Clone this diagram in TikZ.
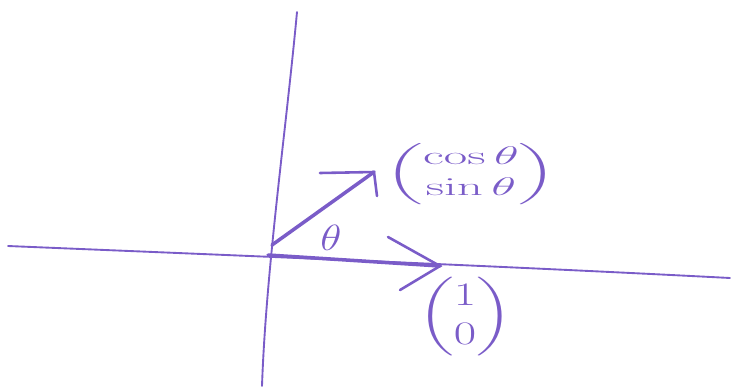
\documentclass[tikz,border=0pt]{standalone}
\usepackage{amsmath}
\definecolor{pen}{RGB}{122,92,200}
\begin{document}
\begin{tikzpicture}[x=0.03cm,y=-0.03cm,
  axis/.style={draw=pen,line width=1.6pt,line cap=round},
  vec/.style={draw=pen,line width=3pt,line cap=round},
  barb/.style={draw=pen,line width=2.2pt,line cap=round},
  lab/.style={text=pen,inner sep=0pt,font=\fontsize{21}{25}\selectfont}]
\useasboundingbox (0,0) rectangle (735,388);
% axes
\coordinate (vt) at (297,12);
\coordinate (vb) at (262,386);
\coordinate (hl) at (8,246);
\coordinate (hr) at (730,278);
\draw[axis] (vt) .. controls (286,130) and (266,270) .. (vb);
\draw[axis] (hl) .. controls (250,256) and (500,266) .. (hr);
% vector (1,0)
\coordinate (o1) at (268,255);
\coordinate (t1) at (440,266);
\coordinate (b1a) at (388,237);
\coordinate (b1b) at (400,290);
\draw[vec] (o1) -- (t1);
\draw[barb] (b1a) -- (t1) -- (b1b);
% vector (cos, sin)
\coordinate (o2) at (272,245);
\coordinate (t2) at (374,172);
\coordinate (b2a) at (320,173);
\coordinate (b2b) at (377,196);
\draw[vec] (o2) -- (t2);
\draw[barb] (b2a) -- (t2) -- (b2b);
% labels
\node[lab,xscale=1.8,yscale=1.5] (theta) at (331,238) {$\theta$};
\node[lab,xscale=2.1,yscale=1.05] (cs) at (471,174) {$\begin{pmatrix}\cos\theta\\ \sin\theta\end{pmatrix}$};
\node[lab,xscale=2.0,yscale=1.35] (e1) at (465,317) {$\begin{pmatrix}1\\ 0\end{pmatrix}$};
\end{tikzpicture}
\end{document}
